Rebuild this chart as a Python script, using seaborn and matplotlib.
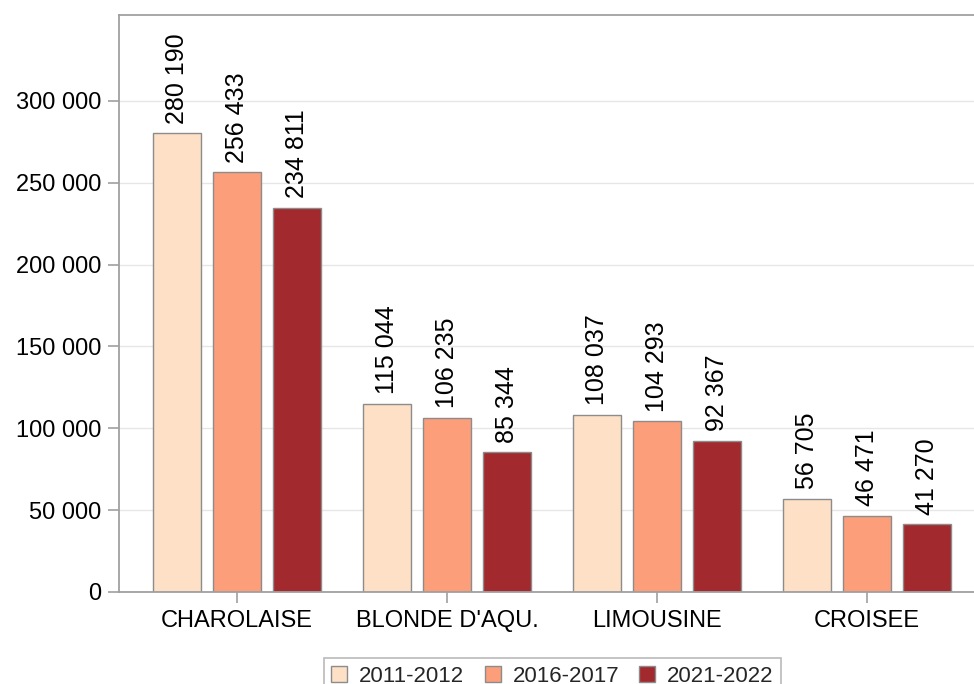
import matplotlib
matplotlib.use("Agg")
import matplotlib.pyplot as plt
import seaborn as sns
import pandas as pd
from matplotlib.patches import Patch

categories = ["CHAROLAISE", "BLONDE D'AQU.", "LIMOUSINE", "CROISEE"]
periods = ["2011-2012", "2016-2017", "2021-2022"]
v_2011 = [280190, 115044, 108037, 56705]
v_2016 = [256433, 106235, 104293, 46471]
v_2021 = [234811, 85344, 92367, 41270]
colors = ["#FDE0C5", "#FC9E7A", "#A2292D"]
yticks = [0, 50000, 100000, 150000, 200000, 250000, 300000]

rows = []
for p, vals in zip(periods, [v_2011, v_2016, v_2021]):
    for c, v in zip(categories, vals):
        rows.append({"cat": c, "period": p, "value": v})
df = pd.DataFrame(rows)

sns.set_style("white")
plt.rcParams["font.family"] = ["Liberation Sans", "DejaVu Sans"]

fig = plt.figure(figsize=(9.74, 6.84), dpi=100)
ax = fig.add_axes([119 / 974, 1 - 592 / 684, 1 - 119 / 974, (592 - 15) / 684])

sns.barplot(data=df, x="cat", y="value", hue="period", order=categories,
            hue_order=periods, palette=colors, saturation=1, width=0.857, gap=0.2,
            edgecolor="#8c8c8c", linewidth=1.0, ax=ax, legend=False, zorder=2)

def fmt(v):
    return f"{int(v):,}".replace(",", " ")

for cont in ax.containers:
    for bar in cont:
        h = bar.get_height()
        ax.annotate(fmt(h), (bar.get_x() + bar.get_width() / 2, h),
                    xytext=(0, 7), textcoords="offset points",
                    rotation=90, ha="center", va="bottom", fontsize=18,
                    color="black")

ax.set_ylim(0, 352500)
ax.set_xlim(-0.562, 3.510)
ax.set_yticks(yticks)
ax.set_yticklabels([fmt(t) for t in yticks])
ax.set_xlabel("")
ax.set_ylabel("")
ax.grid(axis="y", color="#e6e6e6", linewidth=1, zorder=0)
ax.set_axisbelow(True)
for s in ["left", "bottom", "top"]:
    ax.spines[s].set_color("#a0a0a0")
    ax.spines[s].set_linewidth(1.3)
ax.spines["right"].set_visible(False)
ax.tick_params(axis="both", which="major", length=8, width=1.2, color="#a0a0a0",
               labelsize=17, labelcolor="black", direction="out",
               bottom=True, left=True, pad=5)

handles = [Patch(facecolor=c, edgecolor="#8c8c8c", label=p) for c, p in zip(colors, periods)]
leg = fig.legend(handles=handles, loc="upper center", bbox_to_anchor=(552.5 / 974, 1 - 658 / 684),
                 ncol=3, frameon=True, fancybox=False, edgecolor="#a8a8a8",
                 fontsize=16, handlelength=0.72, handleheight=0.72,
                 handletextpad=0.54, columnspacing=0.9, borderpad=0.35,
                 borderaxespad=0)
leg.get_frame().set_linewidth(1.2)

fig.savefig("out.png", dpi=100)
